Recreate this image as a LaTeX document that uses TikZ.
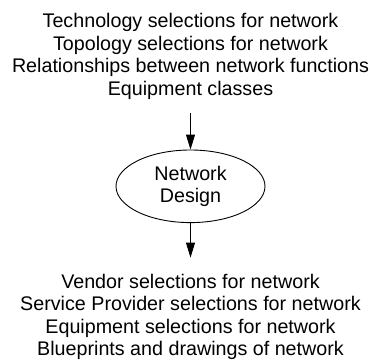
\documentclass[tikz,border=0pt]{standalone}
\usepackage{fontspec}
\setmainfont{Liberation Sans}
\usetikzlibrary{shapes.geometric,arrows.meta}
\tikzset{
  txtblock/.style={align=center, inner sep=0pt, font=\fontsize{19.7}{22.5}\selectfont},
  process/.style={ellipse, draw, line width=0.9pt, inner sep=0pt,
    minimum width=149pt, minimum height=72.6pt, align=center,
    font=\fontsize{19.7}{22.6}\selectfont},
  flow/.style={line width=1pt, -{Triangle[length=15pt,width=9pt]}}
}
\begin{document}
\begin{tikzpicture}[x=1pt,y=1pt]
  \useasboundingbox (0,0) rectangle (372,360);
  \fill[white] (0,0) rectangle (372,360);
  \node[txtblock, anchor=north] (inputs) at (190.5,346.8)
    {Technology selections for network\\
     Topology selections for network\\
     Relationships between network functions\\
     Equipment classes};
  \node[process] (design) at (190.5,173.7) {Network\\Design};
  \node[txtblock, anchor=north] (outputs) at (190.5,86.4)
    {Vendor selections for network\\
     Service Provider selections for network\\
     Equipment selections for network\\
     Blueprints and drawings of network};
  \draw[flow, shorten <=14pt] (inputs) -- (design);
  \draw[flow, shorten >=16pt] (design) -- (outputs);
\end{tikzpicture}
\end{document}
